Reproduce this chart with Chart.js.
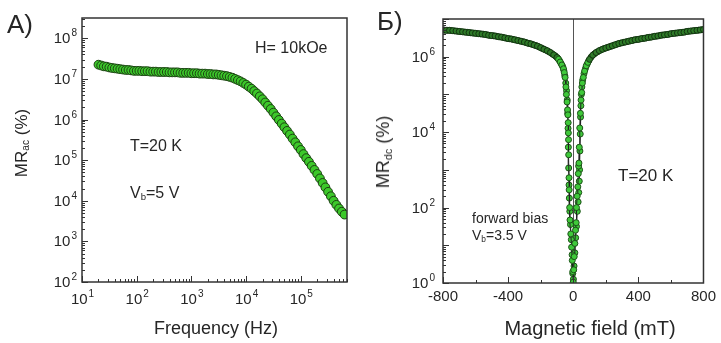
<!DOCTYPE html>
<html>
<head>
<meta charset="utf-8">
<script src="https://cdn.jsdelivr.net/npm/chart.js@4/dist/chart.umd.min.js"></script>
<style>
  body { margin: 0; background: #fff; }
  #wrap { position: relative; width: 721px; height: 343px; overflow: hidden; font-family: "Liberation Sans", Arial, sans-serif; color: #262626; }
  canvas { position: absolute; top: 0; }
  .txt { position: absolute; line-height: 1; white-space: nowrap; }
  .txt sub { font-size: 0.6em; vertical-align: -0.25em; line-height: 0; }
  .rot { transform: translate(-50%, -50%) rotate(-90deg); }
</style>
</head>
<body>
<div id="wrap">
  <canvas id="chart__a" width="360" height="343" style="left:0"></canvas>
  <canvas id="chart__b" width="361" height="343" style="left:360px"></canvas>

  <div class="txt" style="left:7px;top:11px;font-size:26px">A)</div>
  <div class="txt" style="left:255px;top:40px;font-size:16px">H= 10kOe</div>
  <div class="txt" style="left:130px;top:138px;font-size:16px">T=20 K</div>
  <div class="txt" style="left:130px;top:185px;font-size:16px">V<sub>b</sub>=5 V</div>
  <div class="txt rot" style="left:21px;top:143px;font-size:17px">MR<sub>ac</sub> (%)</div>
  <div class="txt" style="left:216px;top:319px;font-size:18px;transform:translateX(-50%)">Frequency (Hz)</div>

  <div class="txt" style="left:377px;top:8px;font-size:26px">Б)</div>
  <div class="txt" style="left:618px;top:167px;font-size:17px">T=20 K</div>
  <div class="txt" style="left:472px;top:211px;font-size:14px">forward bias</div>
  <div class="txt" style="left:472px;top:228px;font-size:14px">V<sub>b</sub>=3.5 V</div>
  <div class="txt rot" style="left:383px;top:152px;font-size:18px">MR<sub>dc</sub> (%)</div>
  <div class="txt" style="left:590px;top:318px;font-size:20px;transform:translateX(-50%)">Magnetic field (mT)</div>
</div>
<script>
"use strict";

// ** Data, panel A (frequency sweep)
const freqHz = [
  20.0, 22.4, 25.1, 28.2, 31.6, 35.5, 39.8, 44.7, 50.1, 56.2, 63.1, 70.8, 79.4, 89.1,
  100, 112, 126, 141, 158, 178, 200, 224, 251, 282, 316, 355, 398, 447, 501, 562, 631, 708, 794, 891,
  1000, 1120, 1260, 1410, 1580, 1780, 2000, 2240, 2510, 2820, 3160, 3550, 3980, 4470, 5010, 5620, 6310, 7080, 7940, 8910,
  1.00e4, 1.12e4, 1.26e4, 1.41e4, 1.58e4, 1.78e4, 2.00e4, 2.24e4, 2.51e4, 2.82e4, 3.16e4, 3.55e4, 3.98e4, 4.47e4, 5.01e4, 5.62e4, 6.31e4, 7.08e4, 7.94e4, 8.91e4,
  1.00e5, 1.12e5, 1.26e5, 1.41e5, 1.58e5, 1.78e5, 2.00e5, 2.24e5, 2.51e5, 2.82e5, 3.16e5, 3.55e5, 3.98e5, 4.47e5, 5.01e5, 5.62e5, 6.31e5,
];
const mrAc = [
  2.24e7, 2.14e7, 2.04e7, 2.00e7, 1.91e7, 1.86e7, 1.82e7, 1.78e7, 1.74e7, 1.70e7, 1.66e7, 1.66e7, 1.62e7, 1.58e7,
  1.58e7, 1.58e7, 1.55e7, 1.55e7, 1.55e7, 1.51e7, 1.51e7, 1.51e7, 1.48e7, 1.48e7, 1.48e7, 1.48e7, 1.45e7, 1.45e7, 1.45e7, 1.45e7, 1.41e7, 1.41e7, 1.41e7, 1.41e7,
  1.38e7, 1.38e7, 1.38e7, 1.35e7, 1.35e7, 1.35e7, 1.32e7, 1.32e7, 1.29e7, 1.29e7, 1.26e7, 1.23e7, 1.20e7, 1.17e7, 1.12e7, 1.07e7, 1.00e7, 9.33e6, 8.71e6, 7.94e6,
  7.24e6, 6.46e6, 5.75e6, 5.01e6, 4.37e6, 3.72e6, 3.16e6, 2.63e6, 2.19e6, 1.82e6, 1.48e6, 1.20e6, 9.77e5, 7.94e5, 6.46e5, 5.25e5, 4.27e5, 3.39e5, 2.75e5, 2.19e5,
  1.78e5, 1.41e5, 1.12e5, 9.12e4, 7.24e4, 5.75e4, 4.57e4, 3.55e4, 2.75e4, 2.14e4, 1.66e4, 1.29e4, 1.00e4, 7.94e3, 6.46e3, 5.37e3, 4.57e3,
];

// ** Data, panel B, sweep up (-800 -> 800 mT)
const fieldUp = [
  -800, -780, -760, -740, -720, -700, -680, -660, -640, -620, -600, -580, -560, -540, -520, -500, -480, -460,
  -440, -420, -400, -380, -360, -340, -320, -300, -280, -260, -240, -220, -200, -180, -160, -140, -120, -100,
  -90, -80, -70, -60, -55, -50, -45, -42, -38, -35, -33, -31, -30, -29, -28, -26, -25, -22, -20, -15, -10, -6, -3, 0,
  3, 6, 10, 14, 18, 20, 24, 28, 31, 33, 35, 37, 40, 44, 48, 52, 56, 62, 70, 80, 90, 100,
  120, 140, 160, 180, 200, 220, 240, 260, 280, 300, 320, 340, 360, 380, 400, 420, 440, 460,
  480, 500, 520, 540, 560, 580, 600, 620, 640, 660, 680, 700, 720, 740, 760, 780, 800,
];
const mrUp = [
  5.13e6, 5.01e6, 5.01e6, 4.90e6, 4.79e6, 4.68e6, 4.57e6, 4.47e6, 4.37e6, 4.27e6, 4.17e6, 4.07e6, 3.98e6, 3.89e6, 3.72e6, 3.63e6, 3.55e6, 3.39e6,
  3.31e6, 3.16e6, 3.02e6, 2.95e6, 2.82e6, 2.69e6, 2.57e6, 2.45e6, 2.29e6, 2.19e6, 2.04e6, 1.91e6, 1.74e6, 1.58e6, 1.45e6, 1.29e6, 1.12e6, 9.55e5,
  8.51e5, 7.24e5, 6.03e5, 4.79e5, 3.80e5, 2.82e5, 1.58e5, 1.00e5, 6.31e4, 3.89e4, 2.88e4, 1.78e4, 9.55e3, 6.31e3, 2.51e3, 617, 295, 100, 46.8, 20, 8.91, 3.98, 2.0, 1.05,
  2.24, 5.01, 11.2, 25.1, 39.8, 100, 200, 355, 794, 1260, 1510, 3980, 1.29e4, 3.16e4, 7.08e4, 1.12e5, 2.00e5, 2.82e5, 4.17e5, 5.75e5, 7.08e5, 8.51e5,
  1.10e6, 1.29e6, 1.45e6, 1.58e6, 1.70e6, 1.82e6, 1.95e6, 2.09e6, 2.24e6, 2.34e6, 2.45e6, 2.57e6, 2.69e6, 2.82e6, 2.88e6, 3.02e6, 3.09e6, 3.24e6,
  3.31e6, 3.47e6, 3.55e6, 3.72e6, 3.80e6, 3.89e6, 4.07e6, 4.17e6, 4.27e6, 4.37e6, 4.47e6, 4.68e6, 4.79e6, 4.90e6, 5.01e6, 5.13e6, 5.25e6,
];

// ** Data, panel B, sweep down (800 -> -800 mT)
const fieldDown = [
  790, 770, 750, 730, 710, 690, 670, 650, 630, 610, 590, 570, 550, 530, 510, 490, 470, 450,
  430, 410, 390, 370, 350, 330, 310, 290, 270, 250, 230, 210, 190, 170, 150, 130, 110,
  95, 85, 75, 66, 58, 53, 50, 47, 45, 43, 41, 39, 37, 34, 30, 25, 20, 15, 10, 5, 1,
  -3, -7, -12, -17, -21, -24, -26, -28, -30, -32, -34, -37, -41, -46, -52, -58, -65, -75, -85, -95,
  -110, -130, -150, -170, -190, -210, -230, -250, -270, -290, -310, -330, -350, -370, -390, -410, -430, -450,
  -470, -490, -510, -530, -550, -570, -590, -610, -630, -650, -670, -690, -710, -730, -750, -770, -790,
];
const mrDown = [
  5.19e6, 5.07e6, 4.96e6, 4.84e6, 4.73e6, 4.57e6, 4.42e6, 4.32e6, 4.22e6, 4.12e6, 3.98e6, 3.85e6, 3.76e6, 3.63e6, 3.51e6, 3.39e6, 3.27e6, 3.16e6,
  3.05e6, 2.95e6, 2.85e6, 2.75e6, 2.63e6, 2.51e6, 2.40e6, 2.29e6, 2.16e6, 2.02e6, 1.88e6, 1.76e6, 1.64e6, 1.51e6, 1.36e6, 1.19e6, 9.77e5,
  7.76e5, 6.31e5, 4.90e5, 3.55e5, 2.40e5, 1.58e5, 1.00e5, 5.01e4, 2.51e4, 8.91e3, 3.16e3, 1000, 501, 251, 141, 79.4, 31.6, 15.8, 6.31, 2.82, 1.26,
  1.78, 5.62, 14.1, 35.5, 79.4, 178, 398, 1120, 3980, 1.26e4, 3.16e4, 7.08e4, 1.26e5, 2.00e5, 3.16e5, 4.37e5, 5.50e5, 6.61e5, 7.94e5, 9.12e5,
  1.05e6, 1.20e6, 1.36e6, 1.51e6, 1.66e6, 1.82e6, 1.97e6, 2.11e6, 2.24e6, 2.37e6, 2.51e6, 2.63e6, 2.75e6, 2.88e6, 2.99e6, 3.09e6, 3.24e6, 3.35e6,
  3.47e6, 3.59e6, 3.67e6, 3.80e6, 3.94e6, 4.03e6, 4.12e6, 4.22e6, 4.32e6, 4.42e6, 4.52e6, 4.62e6, 4.73e6, 4.84e6, 4.96e6, 5.01e6, 5.07e6,
];

// ** Ticks
const decadesAX = [10, 100, 1e3, 1e4, 1e5];
const expAX = ["1", "2", "3", "4", "5"];
const decadesAY = [100, 1e3, 1e4, 1e5, 1e6, 1e7, 1e8];
const expAY = ["2", "3", "4", "5", "6", "7", "8"];
const decadesBY = [1, 10, 100, 1e3, 1e4, 1e5, 1e6];
const labeledBY = [1, 100, 1e4, 1e6];
const expBY = ["0", "2", "4", "6"];
const ticksBX = [-800, -600, -400, -200, 0, 200, 400, 600, 800];
const labeledBX = [-800, -400, 0, 400, 800];

const FONT = "'Liberation Sans', Arial, sans-serif";
const INK = "#262626";

function logTicks(decades, max) {
  const out = [];
  decades.forEach((d) => {
    for (let m = 1; m <= 9; m++) {
      const v = d * m;
      if (v <= max) out.push({ value: v, major: m === 1 });
    }
  });
  return out;
}

// inward tick marks + full frame
const frameTicks = {
  id: "frameTicks",
  afterDraw: (chart) => {
    const { ctx, chartArea: a } = chart;
    ctx.save();
    ctx.strokeStyle = "#333";
    ctx.lineWidth = 1;
    ["x", "y"].forEach((id) => {
      const s = chart.scales[id];
      s.ticks.forEach((t) => {
        const p = Math.round(s.getPixelForValue(t.value)) + 0.5;
        const len = t.major ? 6 : 3;
        ctx.beginPath();
        if (id === "x") {
          ctx.moveTo(p, a.bottom);
          ctx.lineTo(p, a.bottom - len);
        } else {
          ctx.moveTo(a.left, p);
          ctx.lineTo(a.left + len, p);
        }
        ctx.stroke();
      });
    });
    ctx.lineWidth = 1.5;
    ctx.strokeRect(a.left, a.top, a.width, a.height);
    ctx.restore();
  },
};

// "10" + raised exponent labels on the log axes
const powLabels = {
  id: "powLabels",
  afterDraw: (chart, args, opts) => {
    const { ctx, chartArea: a } = chart;
    ctx.save();
    ctx.fillStyle = INK;
    ctx.textAlign = "left";
    ctx.textBaseline = "alphabetic";
    opts.items.forEach((item) => {
      const s = chart.scales[item.axis];
      item.values.forEach((v, i) => {
        const p = s.getPixelForValue(v);
        ctx.font = `15px ${FONT}`;
        const wb = ctx.measureText("10").width;
        ctx.font = `10px ${FONT}`;
        const we = ctx.measureText(item.exps[i]).width;
        let x0, base;
        if (item.axis === "y") {
          x0 = a.left - item.gap - wb - we - 1;
          base = p + 5;
        } else {
          x0 = p - (wb + we) / 2;
          base = a.bottom + item.gap;
        }
        ctx.font = `15px ${FONT}`;
        ctx.fillText("10", x0, base);
        ctx.font = `10px ${FONT}`;
        ctx.fillText(item.exps[i], x0 + wb + 1, base - 7);
      });
    });
    ctx.restore();
  },
};

function axisBase() {
  return {
    grid: { display: false, drawTicks: false },
    border: { display: false },
    ticks: { display: false, autoSkip: false, maxRotation: 0, color: INK, font: { family: FONT, size: 15 } },
  };
}

// ** Panel A
const axA_x = axisBase();
Object.assign(axA_x, {
  type: "logarithmic",
  min: 10,
  max: 7e5,
  afterBuildTicks: (s) => { s.ticks = logTicks(decadesAX, 7e5); },
  afterFit: (s) => { s.height = 61; },
});

const axA_y = axisBase();
Object.assign(axA_y, {
  type: "logarithmic",
  min: 100,
  max: 3.16e8,
  afterBuildTicks: (s) => { s.ticks = logTicks(decadesAY, 3.16e8); },
  afterFit: (s) => { s.width = 82; },
});

new Chart(document.getElementById("chart__a").getContext("2d"), {
  type: "scatter",
  data: {
    datasets: [
      {
        data: freqHz.map((f, i) => ({ x: f, y: mrAc[i] })),
        pointRadius: 4.4,
        pointBackgroundColor: "#3cc82a",
        pointBorderColor: "#1b4012",
        pointBorderWidth: 1,
        showLine: false,
      },
    ],
  },
  options: {
    responsive: false,
    animation: false,
    layout: { padding: { left: 0, top: 18, right: 13, bottom: 0 } },
    plugins: {
      legend: { display: false },
      tooltip: { enabled: false },
      powLabels: {
        items: [
          { axis: "x", values: decadesAX, exps: expAX, gap: 22 },
          { axis: "y", values: decadesAY, exps: expAY, gap: 5 },
        ],
      },
    },
    scales: { x: axA_x, y: axA_y },
  },
  plugins: [frameTicks, powLabels],
});

// ** Panel B
const axB_x = axisBase();
Object.assign(axB_x, {
  type: "linear",
  min: -800,
  max: 800,
  afterBuildTicks: (s) => { s.ticks = ticksBX.map((v) => ({ value: v, major: v % 400 === 0 })); },
  afterFit: (s) => { s.height = 60; },
});
axB_x.grid = {
  display: true,
  drawTicks: false,
  lineWidth: 1,
  color: (c) => (c.tick && c.tick.value === 0 ? "#555" : "rgba(0,0,0,0)"),
};
axB_x.ticks.display = true;
axB_x.ticks.padding = 5;
axB_x.ticks.callback = (v) => (labeledBX.includes(v) ? String(v) : "");

const axB_y = axisBase();
Object.assign(axB_y, {
  type: "logarithmic",
  min: 1,
  max: 1e7,
  afterBuildTicks: (s) => { s.ticks = logTicks(decadesBY, 1e7).concat([{ value: 1e7, major: true }]); },
  afterFit: (s) => { s.width = 83; },
});

// the densely sampled wings read darker than the sparse dip
const wingFill = (c) => (c.raw && Math.abs(c.raw.x) > 90 ? "#2e7a28" : "#3fc93a");
const wingEdge = (c) => (c.raw && Math.abs(c.raw.x) > 90 ? "#123510" : "#1d5219");

const sweepStyle = {
  showLine: true,
  borderColor: "#222",
  borderWidth: 1,
  pointRadius: 3,
  pointBackgroundColor: wingFill,
  pointBorderColor: wingEdge,
  pointBorderWidth: 1,
};

new Chart(document.getElementById("chart__b").getContext("2d"), {
  type: "scatter",
  data: {
    datasets: [
      Object.assign({ data: fieldUp.map((h, i) => ({ x: h, y: mrUp[i] })) }, sweepStyle),
      Object.assign({ data: fieldDown.map((h, i) => ({ x: h, y: mrDown[i] })) }, sweepStyle),
    ],
  },
  options: {
    responsive: false,
    animation: false,
    layout: { padding: { left: 0, top: 19, right: 13, bottom: 0 } },
    plugins: {
      legend: { display: false },
      tooltip: { enabled: false },
      powLabels: {
        items: [{ axis: "y", values: labeledBY, exps: expBY, gap: 8 }],
      },
    },
    scales: { x: axB_x, y: axB_y },
  },
  plugins: [frameTicks, powLabels],
});
</script>
</body>
</html>
